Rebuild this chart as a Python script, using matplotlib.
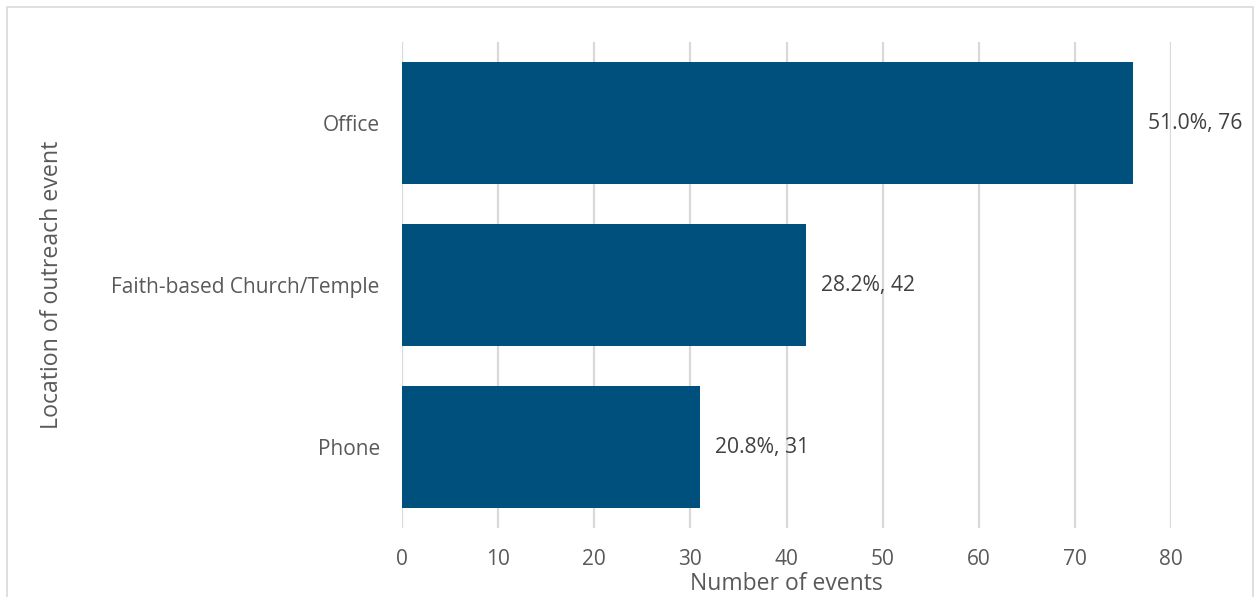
import matplotlib.pyplot as plt
from matplotlib.patches import Rectangle

locations = ["Office", "Faith-based Church/Temple", "Phone"]
events = [76, 42, 31]
percents = [51.0, 28.2, 20.8]
x_ticks = [0, 10, 20, 30, 40, 50, 60, 70, 80]

plt.rcParams['font.family'] = ['Open Sans', 'DejaVu Sans']
text_col = '#595959'
bar_col = '#00507d'

fig = plt.figure(figsize=(12.55, 5.97), dpi=100)
W, H = 1255, 597
ax = fig.add_axes([402 / W, 1 - 528 / H, (1171 - 402) / W, (528 - 42) / H])

ypos = list(range(len(locations)))
ax.barh(ypos, events, height=0.753, color=bar_col, zorder=3)
for y, v, p in zip(ypos, events, percents):
    ax.text(v + 1.6, y, f"{p:.1f}%, {v}", va='center', ha='left',
            fontsize=15.2, color='#404040')

ax.set_xlim(0, 80)
ax.set_ylim(len(locations) - 0.5, -0.5)
ax.set_yticks(ypos)
ax.set_yticklabels(locations, fontsize=15, color=text_col)
ax.set_xticks(x_ticks)
ax.set_xticklabels([str(t) for t in x_ticks], fontsize=15, color=text_col)
ax.tick_params(length=0, pad=16, axis='y')
ax.tick_params(length=0, pad=15, axis='x')
ax.grid(axis='x', color='#d9d9d9', linewidth=1.6, zorder=0)
ax.set_axisbelow(True)
for s in ax.spines.values():
    s.set_visible(False)

ax.set_xlabel("Number of events", fontsize=16.5, color=text_col)
ax.set_ylabel("Location of outreach event", fontsize=16.7, color=text_col)
ax.xaxis.set_label_coords((786 - 402) / (1171 - 402), -(584 - 528) / (528 - 42))
ax.yaxis.set_label_coords(-(402 - 52) / (1171 - 402), (528 - 285) / (528 - 42))
ax.xaxis.label.set_va('center')
ax.yaxis.label.set_va('center')

fig.patches.append(Rectangle((7 / W, -0.1), (1253 - 7) / W, 1 - 7 / H + 0.1,
                             transform=fig.transFigure, fill=False,
                             edgecolor='#d9d9d9', linewidth=1.2))

fig.savefig("out.png", dpi=100)
